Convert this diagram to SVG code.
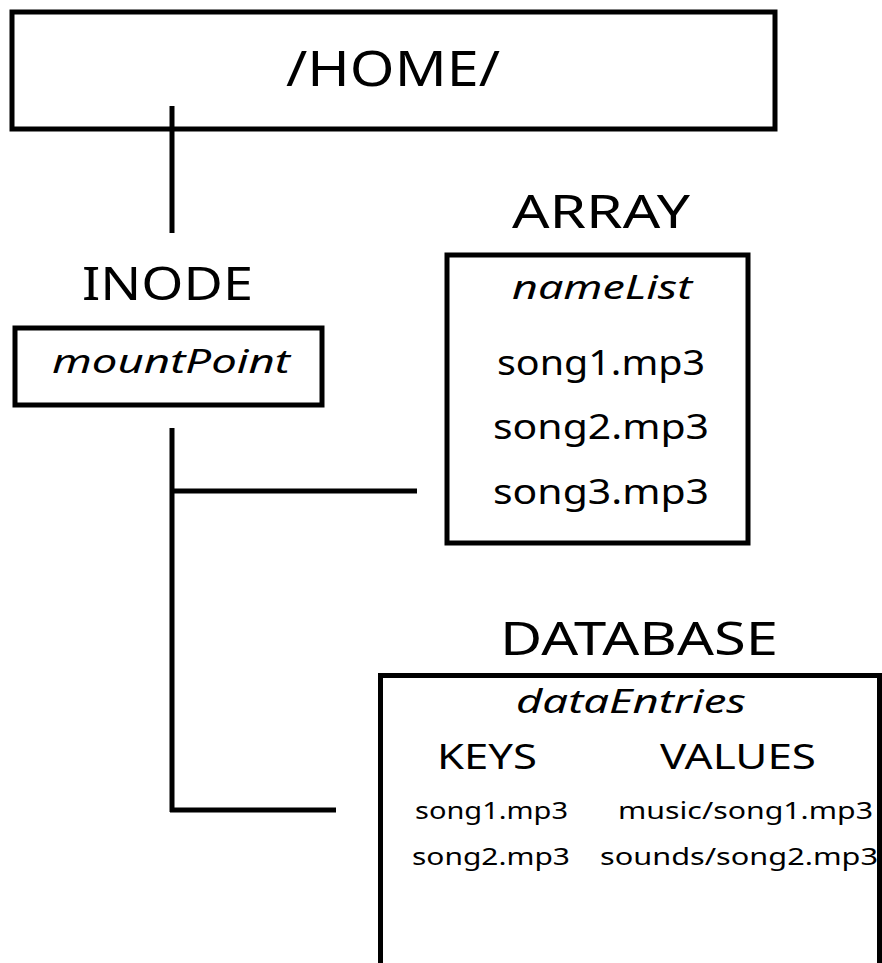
<svg xmlns="http://www.w3.org/2000/svg" width="882" height="963" viewBox="0 0 882 963">
  <style>
    .box { fill: #ffffff; stroke: #000000; stroke-width: 5; }
    .wire { stroke: #000000; stroke-width: 5; fill: none; }
    .t { font-family: "Noto Sans", "Open Sans", "Liberation Sans", sans-serif; fill: #000000; }
    .it { font-style: italic; }
    .mid { text-anchor: middle; }
  </style>
  <rect x="0" y="0" width="882" height="963" fill="#ffffff"/>

  <g id="home">
    <rect class="box" x="12" y="12" width="763" height="117"/>
    <text class="t mid" x="393" y="86" font-size="50" textLength="214" lengthAdjust="spacingAndGlyphs">/HOME/</text>
  </g>

  <g id="connectors">
    <line class="wire" x1="172" y1="106" x2="172" y2="233"/>
    <line class="wire" x1="172" y1="428" x2="172" y2="812"/>
    <line class="wire" x1="172" y1="491" x2="417" y2="491"/>
    <line class="wire" x1="170" y1="810" x2="336" y2="810"/>
  </g>

  <g id="inode">
    <text class="t" x="82" y="300" font-size="46" textLength="171" lengthAdjust="spacingAndGlyphs">INODE</text>
    <rect class="box" x="15" y="328" width="307" height="77"/>
    <text class="t it" x="52" y="373" font-size="33" textLength="238" lengthAdjust="spacingAndGlyphs">mountPoint</text>
  </g>

  <g id="array">
    <text class="t" x="512" y="228" font-size="46" textLength="178" lengthAdjust="spacingAndGlyphs">ARRAY</text>
    <rect class="box" x="447" y="255" width="301" height="288"/>
    <text class="t it mid" x="602" y="299" font-size="33" textLength="180" lengthAdjust="spacingAndGlyphs">nameList</text>
    <text class="t mid" x="601" y="375" font-size="35" textLength="208" lengthAdjust="spacingAndGlyphs">song1.mp3</text>
    <text class="t mid" x="601" y="439" font-size="35" textLength="216" lengthAdjust="spacingAndGlyphs">song2.mp3</text>
    <text class="t mid" x="601" y="504" font-size="35" textLength="216" lengthAdjust="spacingAndGlyphs">song3.mp3</text>
  </g>

  <g id="database">
    <text class="t" x="500" y="655" font-size="46" textLength="278" lengthAdjust="spacingAndGlyphs">DATABASE</text>
    <path class="box" d="M380.5 970 V675.5 H879.5 V970"/>
    <text class="t it mid" x="631" y="713" font-size="33" textLength="230" lengthAdjust="spacingAndGlyphs">dataEntries</text>
    <text class="t" x="437" y="769" font-size="34" textLength="100" lengthAdjust="spacingAndGlyphs">KEYS</text>
    <text class="t" x="660" y="769" font-size="34" textLength="156" lengthAdjust="spacingAndGlyphs">VALUES</text>
    <text class="t" x="415" y="819" font-size="23" textLength="153" lengthAdjust="spacingAndGlyphs">song1.mp3</text>
    <text class="t" x="618" y="819" font-size="23" textLength="255" lengthAdjust="spacingAndGlyphs">music/song1.mp3</text>
    <text class="t" x="412" y="865" font-size="23" textLength="158" lengthAdjust="spacingAndGlyphs">song2.mp3</text>
    <text class="t" x="600" y="865" font-size="23" textLength="278" lengthAdjust="spacingAndGlyphs">sounds/song2.mp3</text>
  </g>
</svg>
